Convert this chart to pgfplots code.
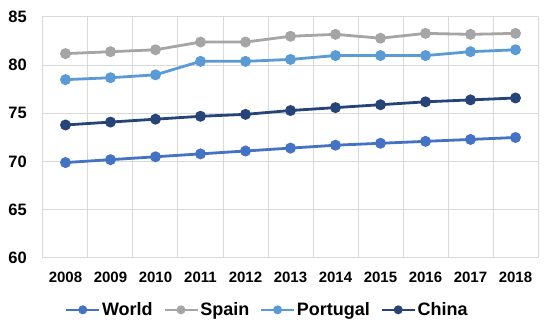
\documentclass[border=0pt]{standalone}
\usepackage{pgfplots}
\pgfplotsset{compat=1.18}
\usepackage{fontspec}
\setmainfont{Liberation Sans}
\definecolor{cWorld}{HTML}{4472C4}
\definecolor{cSpain}{HTML}{A5A5A5}
\definecolor{cPort}{HTML}{5B9BD5}
\definecolor{cChina}{HTML}{264478}
\definecolor{gridc}{HTML}{D9D9D9}
\begin{document}
\begin{tikzpicture}
\useasboundingbox (-43pt,-70pt) rectangle (507pt,258pt);
\begin{axis}[
  at={(0pt,0pt)}, anchor=south west,
  scale only axis, width=495pt, height=241pt,
  xmin=-0.5, xmax=10.5, ymin=60, ymax=85,
  xtick={0,...,10},
  xticklabels={2008,2009,2010,2011,2012,2013,2014,2015,2016,2017,2018},
  extra x ticks={-0.5,0.5,...,10.5}, extra x tick labels={},
  extra x tick style={grid=major, major tick length=0pt},
  xmajorgrids=false,
  ytick={60,65,...,85},
  ymajorgrids,
  grid style={gridc, line width=1pt},
  axis line style={gridc, line width=1pt},
  major tick length=0pt,
  /pgf/number format/assume math mode=true,
  yticklabel style={font=\bfseries\fontsize{16.5}{16.5}\selectfont, anchor=east, inner sep=0pt, xshift=-16pt},
  xticklabel style={font=\bfseries\fontsize{15}{15}\selectfont, anchor=north, inner sep=0pt, yshift=-13.5pt},
  legend columns=4,
  legend style={draw=none, fill=none, at={(0.4525,-0.215)}, anchor=center,
    font=\bfseries\fontsize{18}{18}\selectfont,
    /tikz/every odd column/.append style={column sep=0pt},
    /tikz/every even column/.append style={column sep=9pt},
    nodes={inner sep=1.5pt}},
  legend image code/.code={
    \draw[#1, mark=none, line width=2.6pt] (0pt,0pt) -- (33pt,0pt);
    \draw[#1, only marks, mark size=3pt] plot coordinates {(16.5pt,0pt)};
  },
  every axis plot/.append style={line width=2.8pt, mark=*, mark size=4pt, mark options={solid}},
]
\addplot[cWorld, mark options={fill=cWorld, draw=cWorld}] coordinates {
(0,69.9)(1,70.2)(2,70.5)(3,70.8)(4,71.1)(5,71.4)(6,71.7)(7,71.9)(8,72.1)(9,72.3)(10,72.5)};
\addlegendentry{World}
\addplot[cSpain, mark options={fill=cSpain, draw=cSpain}] coordinates {
(0,81.2)(1,81.4)(2,81.6)(3,82.4)(4,82.4)(5,83.0)(6,83.2)(7,82.8)(8,83.3)(9,83.2)(10,83.3)};
\addlegendentry{Spain}
\addplot[cPort, mark options={fill=cPort, draw=cPort}] coordinates {
(0,78.5)(1,78.7)(2,79.0)(3,80.4)(4,80.4)(5,80.6)(6,81.0)(7,81.0)(8,81.0)(9,81.4)(10,81.6)};
\addlegendentry{Portugal}
\addplot[cChina, mark options={fill=cChina, draw=cChina}] coordinates {
(0,73.8)(1,74.1)(2,74.4)(3,74.7)(4,74.9)(5,75.3)(6,75.6)(7,75.9)(8,76.2)(9,76.4)(10,76.6)};
\addlegendentry{China}
\end{axis}
\end{tikzpicture}
\end{document}
